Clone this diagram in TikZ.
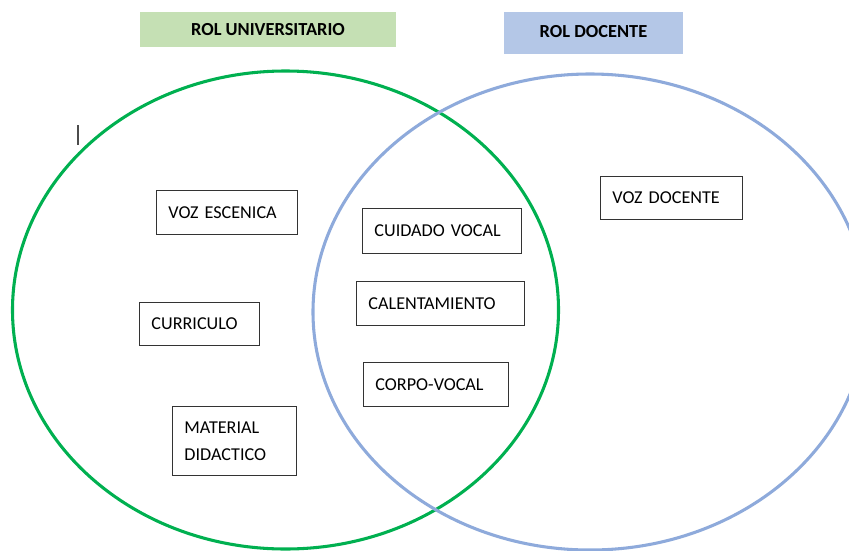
\documentclass[tikz,border=0pt]{standalone}
\usepackage{fontspec}
\setmainfont{Carlito}
\usepackage{xcolor}
\usetikzlibrary{positioning}
\definecolor{unigreen}{HTML}{00B050}
\definecolor{docblue}{HTML}{8EAADB}
\definecolor{unifill}{HTML}{C5E0B4}
\definecolor{docfill}{HTML}{B4C7E7}

\begin{document}
\begin{tikzpicture}[
    x=0.75pt, y=-0.75pt,
    title/.style={rectangle, minimum height=26pt, inner xsep=0pt, align=center, font=\fontsize{13.8pt}{16pt}\selectfont\bfseries},
    item/.style={rectangle, draw=black!80, line width=0.7pt, fill=white, align=left, inner xsep=9pt, anchor=north west, font=\fontsize{13.6pt}{20pt}\selectfont},
    ring/.style={line width=2.3pt}
]
\clip (0,0) rectangle (849,550);
\useasboundingbox (0,0) rectangle (849,550);

% Circles
\draw[ring, unigreen] (285.5,310) ellipse [x radius=204.75pt, y radius=179.25pt];
\draw[ring, docblue] (590,312) ellipse [x radius=207.75pt, y radius=178.5pt];

% Titles
\node[title, fill=unifill, minimum width=192pt] (uni) at (268,29.5) {ROL UNIVERSITARIO};
\node[title, fill=docfill, minimum width=134.25pt, minimum height=31.5pt] (doc) at (593.5,33) {\raisebox{3pt}{ROL DOCENTE}};

% Rol universitario
\node[item, minimum height=33pt, text width=87.75pt] (voz) at (156,190) {VOZ ESCENICA};
\node[item, minimum height=32.25pt, text width=72pt] (curr) at (139,302) {CURRICULO};
\node[item, minimum height=51.75pt, text width=75pt] (mat) at (172,406) {MATERIAL\\DIDACTICO};

% Interseccion
\node[item, minimum height=33.75pt, text width=101.25pt] (cuid) at (362,208) {CUIDADO VOCAL};
\node[item, minimum height=33pt, text width=108pt] (cal) at (356,281) {CALENTAMIENTO};
\node[item, minimum height=33pt, text width=90.75pt] (corp) at (363,362) {CORPO-VOCAL};

% Rol docente
\node[item, minimum height=32.25pt, text width=88.5pt] (vozd) at (600,176) {VOZ DOCENTE};

% Cursor
\coordinate (cur) at (78,125);
\draw[black!70, line width=0.8pt] (cur) -- ++(0,20);

\end{tikzpicture}
\end{document}
